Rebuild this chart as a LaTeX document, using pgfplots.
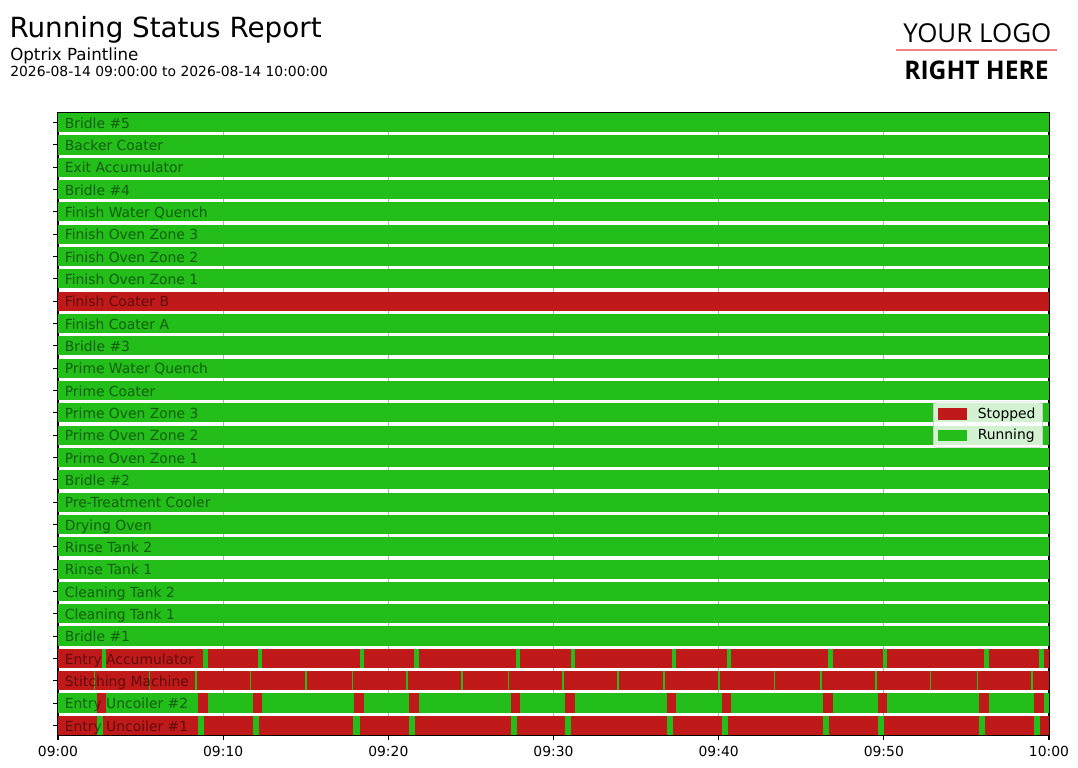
\documentclass[border=0pt]{standalone}
\usepackage{fontspec}
\setmainfont{DejaVu Sans}
\newfontfamily\logofont{Open Sans}
\usepackage{graphicx}
\usepackage{pgfplots}
\pgfplotsset{compat=1.18}

\definecolor{stopped}{RGB}{192,25,25}
\definecolor{running}{RGB}{35,190,26}
\definecolor{gridgray}{RGB}{176,176,176}
\definecolor{legendframe}{RGB}{204,204,204}
\definecolor{logored}{RGB}{240,128,128}

\tikzset{lbl/.style={anchor=base west, inner sep=0pt, xshift=4.7pt, yshift=-4.1pt,
        text=black, text opacity=0.5, font=\fontsize{10}{12}\selectfont}}

\begin{document}
\begin{tikzpicture}
\path[use as bounding box] (-41.76pt,-23.76pt) rectangle (734.4pt,529.2pt);
\begin{axis}[
    at={(0pt,0pt)}, anchor=south west,
    scale only axis, width=713.52pt, height=447.84pt,
    xmin=0, xmax=60, ymin=-0.43, ymax=27.43,
    xtick={0,10,20,30,40,50,60},
    xticklabels={09:00,09:10,09:20,09:30,09:40,09:50,10:00},
    ytick={0,...,27}, yticklabels={},
    xtick pos=left, ytick pos=left,
    tick align=outside, major tick length=3.5pt,
    tick style={black, line width=0.8pt},
    xmajorgrids, major grid style={gridgray, line width=0.8pt},
    axis line style={line width=0.8pt},
    ticklabel style={font=\fontsize{10}{12}\selectfont},
    xticklabel style={yshift=-1.2pt},
    /pgf/number format/assume math mode=true,
    unbounded coords=jump,
    seg/.style={line width=13.82pt, line cap=butt, forget plot},
    legend style={at={(0.9937,0.499)}, anchor=east, fill=white, fill opacity=0.8,
        draw opacity=1, text opacity=1, draw=legendframe, rounded corners=2pt,
        font=\fontsize{10}{12}\selectfont, inner xsep=3pt, inner ysep=2pt,
        row sep=2.5pt, column sep=6pt},
    legend cell align=left,
    legend image code/.code={\path[#1, sharp corners, fill opacity=1]
        (0pt,-4.2pt) rectangle (20.9pt,4.2pt);},
]

% full-width rows, running
\addplot[seg, running] coordinates {
    (0,1) (60,1) (0,nan)
    (0,4) (60,4) (0,nan) (0,5) (60,5) (0,nan) (0,6) (60,6) (0,nan)
    (0,7) (60,7) (0,nan) (0,8) (60,8) (0,nan) (0,9) (60,9) (0,nan)
    (0,10) (60,10) (0,nan) (0,11) (60,11) (0,nan) (0,12) (60,12) (0,nan)
    (0,13) (60,13) (0,nan) (0,14) (60,14) (0,nan) (0,15) (60,15) (0,nan)
    (0,16) (60,16) (0,nan) (0,17) (60,17) (0,nan) (0,18) (60,18) (0,nan)
    (0,20) (60,20) (0,nan) (0,21) (60,21) (0,nan) (0,22) (60,22) (0,nan)
    (0,23) (60,23) (0,nan) (0,24) (60,24) (0,nan) (0,25) (60,25) (0,nan)
    (0,26) (60,26) (0,nan) (0,27) (60,27)
};
% full-width rows, stopped
\addplot[seg, stopped] coordinates {
    (0,0) (60,0) (0,nan) (0,2) (60,2) (0,nan)
    (0,3) (60,3) (0,nan) (0,19) (60,19)
};

% Entry Uncoiler #2: stops
\addplot[seg, stopped] coordinates {
    (2.36,1) (2.91,1) (0,nan) (8.48,1) (9.08,1) (0,nan)
    (11.81,1) (12.35,1) (0,nan) (17.92,1) (18.53,1) (0,nan)
    (21.25,1) (21.86,1) (0,nan) (27.43,1) (27.97,1) (0,nan)
    (30.70,1) (31.30,1) (0,nan) (36.87,1) (37.42,1) (0,nan)
    (40.20,1) (40.75,1) (0,nan) (46.32,1) (46.92,1) (0,nan)
    (49.65,1) (50.19,1) (0,nan) (55.76,1) (56.37,1) (0,nan)
    (59.09,1) (59.70,1)
};
% Entry Uncoiler #1: runs
\addplot[seg, running] coordinates {
    (2.36,0) (2.72,0) (0,nan) (8.48,0) (8.84,0) (0,nan)
    (11.81,0) (12.17,0) (0,nan) (17.88,0) (18.28,0) (0,nan)
    (21.25,0) (21.61,0) (0,nan) (27.43,0) (27.79,0) (0,nan)
    (30.70,0) (31.06,0) (0,nan) (36.87,0) (37.23,0) (0,nan)
    (40.20,0) (40.56,0) (0,nan) (46.32,0) (46.68,0) (0,nan)
    (49.65,0) (50.01,0) (0,nan) (55.76,0) (56.12,0) (0,nan)
    (59.09,0) (59.45,0)
};
% Stitching Machine: short runs
\addplot[seg, running] coordinates {
    (2.16,2) (2.24,2) (0,nan) (5.49,2) (5.57,2) (0,nan)
    (8.28,2) (8.40,2) (0,nan) (11.60,2) (11.68,2) (0,nan)
    (14.95,2) (15.05,2) (0,nan) (17.78,2) (17.86,2) (0,nan)
    (21.07,2) (21.19,2) (0,nan) (24.38,2) (24.50,2) (0,nan)
    (27.22,2) (27.30,2) (0,nan) (30.53,2) (30.61,2) (0,nan)
    (33.83,2) (33.95,2) (0,nan) (36.65,2) (36.77,2) (0,nan)
    (39.98,2) (40.06,2) (0,nan) (43.33,2) (43.41,2) (0,nan)
    (46.12,2) (46.24,2) (0,nan) (49.45,2) (49.57,2) (0,nan)
    (52.77,2) (52.85,2) (0,nan) (55.62,2) (55.70,2) (0,nan)
    (58.89,2) (59.01,2)
};
% Entry Accumulator: runs
\addplot[seg, running] coordinates {
    (2.66,3) (2.91,3) (0,nan) (8.78,3) (9.08,3) (0,nan)
    (12.11,3) (12.35,3) (0,nan) (18.28,3) (18.53,3) (0,nan)
    (21.55,3) (21.86,3) (0,nan) (27.73,3) (27.97,3) (0,nan)
    (31.06,3) (31.30,3) (0,nan) (37.17,3) (37.42,3) (0,nan)
    (40.50,3) (40.75,3) (0,nan) (46.62,3) (46.92,3) (0,nan)
    (49.95,3) (50.19,3) (0,nan) (56.06,3) (56.37,3) (0,nan)
    (59.39,3) (59.70,3)
};

\addlegendimage{fill=stopped, draw=none}
\addlegendentry{Stopped}
\addlegendimage{fill=running, draw=none}
\addlegendentry{Running}

\node[lbl] at (axis cs:0,27) {Bridle \#5};
\node[lbl] at (axis cs:0,26) {Backer Coater};
\node[lbl] at (axis cs:0,25) {Exit Accumulator};
\node[lbl] at (axis cs:0,24) {Bridle \#4};
\node[lbl] at (axis cs:0,23) {Finish Water Quench};
\node[lbl] at (axis cs:0,22) {Finish Oven Zone 3};
\node[lbl] at (axis cs:0,21) {Finish Oven Zone 2};
\node[lbl] at (axis cs:0,20) {Finish Oven Zone 1};
\node[lbl] at (axis cs:0,19) {Finish Coater B};
\node[lbl] at (axis cs:0,18) {Finish Coater A};
\node[lbl] at (axis cs:0,17) {Bridle \#3};
\node[lbl] at (axis cs:0,16) {Prime Water Quench};
\node[lbl] at (axis cs:0,15) {Prime Coater};
\node[lbl] at (axis cs:0,14) {Prime Oven Zone 3};
\node[lbl] at (axis cs:0,13) {Prime Oven Zone 2};
\node[lbl] at (axis cs:0,12) {Prime Oven Zone 1};
\node[lbl] at (axis cs:0,11) {Bridle \#2};
\node[lbl] at (axis cs:0,10) {Pre-Treatment Cooler};
\node[lbl] at (axis cs:0,9) {Drying Oven};
\node[lbl] at (axis cs:0,8) {Rinse Tank 2};
\node[lbl] at (axis cs:0,7) {Rinse Tank 1};
\node[lbl] at (axis cs:0,6) {Cleaning Tank 2};
\node[lbl] at (axis cs:0,5) {Cleaning Tank 1};
\node[lbl] at (axis cs:0,4) {Bridle \#1};
\node[lbl] at (axis cs:0,3) {Entry Accumulator};
\node[lbl] at (axis cs:0,2) {Stitching Machine};
\node[lbl] at (axis cs:0,1) {Entry Uncoiler \#2};
\node[lbl] at (axis cs:0,0) {Entry Uncoiler \#1};
\end{axis}

% header
\node[anchor=base west, inner sep=0pt] at (-35.1pt,502.5pt)
    {\fontsize{20}{24}\selectfont Running Status Report};
\node[anchor=base west, inner sep=0pt] at (-34.56pt,485.3pt)
    {\fontsize{12}{14}\selectfont Optrix Paintline};
\node[anchor=base west, inner sep=0pt] at (-34.56pt,474pt)
    {\fontsize{10}{12}\selectfont 2026-08-14 09:00:00 to 2026-08-14 10:00:00};

% logo placeholder
\node[anchor=base west, inner sep=0pt] at (608.4pt,498.7pt)
    {\resizebox{106.6pt}{13.6pt}{\logofont YOUR LOGO}};
\draw[logored, line width=0.9pt] (603.4pt,493.2pt) -- (719.3pt,493.2pt);
\node[anchor=base west, inner sep=0pt] at (609.1pt,472.3pt)
    {\resizebox{104pt}{13.4pt}{\logofont\bfseries RIGHT HERE}};
\end{tikzpicture}
\end{document}
